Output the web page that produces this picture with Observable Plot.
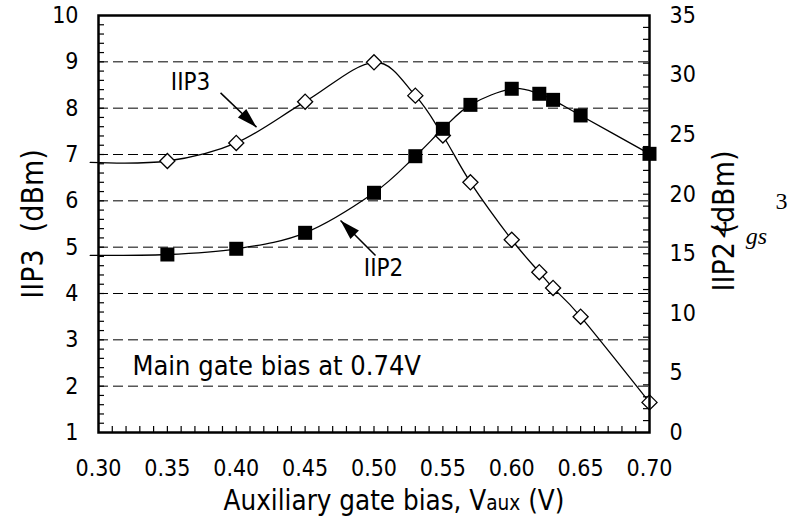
<!DOCTYPE html>
<html>
<head>
<meta charset="utf-8">
<script src="https://cdn.jsdelivr.net/npm/d3@7"></script>
<script src="https://cdn.jsdelivr.net/npm/@observablehq/plot@0.6"></script>
<style>
  html, body { margin: 0; padding: 0; background: #fff; }
</style>
</head>
<body>
<div id="chart"></div>
<script>
// Auxiliary gate bias sweep (V); the first entry is where the fitted curves begin
const vaux = [0.294, 0.35, 0.40, 0.45, 0.50, 0.53, 0.55, 0.57, 0.60, 0.62, 0.63, 0.65, 0.70];
// Measured IIP3 (dBm), left axis
const iip3 = [6.83, 6.86, 7.25, 8.14, 8.99, 8.27, 7.41, 6.40, 5.16, 4.46, 4.12, 3.50, 1.65];
// Measured IIP2 (dBm), right axis
const iip2 = [14.86, 14.94, 15.42, 16.76, 20.12, 23.19, 25.49, 27.50, 28.85, 28.43, 27.92, 26.61, 23.39];

// Tick labels
const xTickLabels = [0.30, 0.35, 0.40, 0.45, 0.50, 0.55, 0.60, 0.65, 0.70];
const leftTickLabels = [1, 2, 3, 4, 5, 6, 7, 8, 9, 10];
const rightTickLabels = [0, 5, 10, 15, 20, 25, 30, 35];
const gridLevels = [2, 3, 4, 5, 6, 7, 8, 9];

// Annotation text
const curveLabels = [
  {text: "IIP3", x: 0.3668, y: 8.56},
  {text: "IIP2", x: 0.5069, y: 4.54}
];
const curveArrows = [
  {x1: 0.3886, y1: 8.33, x2: 0.4147, y2: 7.59, angle: 134},
  {x1: 0.5011, y1: 4.82, x2: 0.4757, y2: 5.575, angle: -45}
];
const biasNote = {text: "Main gate bias at 0.74V", x: 0.3247, y: 2.42};

const titleLeft = "IIP3  (dBm)";
const titleRight = "IIP2 (dBm)";
const titleBottom = "Auxiliary gate bias, Vaux (V)";

// Layout
const W = 797, H = 519;
const mL = 98, mR = 148, mT = 15, mB = 87;
const innerW = W - mL - mR, innerH = H - mT - mB;
const tickLen = 6;

const xDomain = [0.30, 0.70];
const leftDomain = [1, 10];
const rightDomain = [0, 35];
// Right-axis value expressed on the left-axis scale
const toLeft = v => leftDomain[0] + (v - rightDomain[0]) * (leftDomain[1] - leftDomain[0]) / (rightDomain[1] - rightDomain[0]);
const fromLeft = y => rightDomain[0] + (y - leftDomain[0]) * (rightDomain[1] - rightDomain[0]) / (leftDomain[1] - leftDomain[0]);

const rows = vaux.map((x, i) => ({x, iip3: iip3[i], iip2: toLeft(iip2[i])}));
const measured = rows.filter(d => d.x >= xDomain[0]);

const leftMinor = d3.range(1, 50).map(i => 1 + i * 0.2).filter(v => v < 9.999);
const rightMinor = d3.range(1, 35).map(toLeft);
const bottomMinor = d3.range(31, 70).map(i => i / 100);

// Filled arrowhead, tip at the origin, pointing up before rotation
const arrowHead = {
  draw(ctx) {
    ctx.moveTo(0, 0);
    ctx.lineTo(6, 20);
    ctx.lineTo(-6, 20);
    ctx.closePath();
  }
};

const font = "DejaVu Sans Condensed";

const chart = Plot.plot({
  width: W,
  height: H,
  marginLeft: mL,
  marginRight: mR,
  marginTop: mT,
  marginBottom: mB,
  x: {domain: xDomain},
  y: {domain: leftDomain},
  style: {fontFamily: font, fontSize: "23px", color: "#000", background: "#fff", overflow: "visible"},
  marks: [
    // dashed horizontal grid
    Plot.ruleY(gridLevels, {stroke: "#000", strokeWidth: 1, strokeDasharray: "10,5"}),

    // inward tick marks
    Plot.tickY(leftMinor, {y: d => d, insetRight: innerW - tickLen, stroke: "#000", strokeWidth: 1.2}),
    Plot.tickY(rightMinor, {y: d => d, insetLeft: innerW - tickLen, stroke: "#000", strokeWidth: 1.2}),
    Plot.tickX(bottomMinor, {x: d => d, insetTop: innerH - tickLen, stroke: "#000", strokeWidth: 1.2}),

    // tick labels
    Plot.axisY(leftTickLabels, {anchor: "left", tickSize: 0, tickPadding: 20, fontSize: 23, label: null}),
    Plot.axisY(rightTickLabels.map(toLeft), {anchor: "right", tickSize: 0, tickPadding: 20, fontSize: 23, label: null,
      tickFormat: d => String(Math.round(fromLeft(d)))}),
    Plot.axisX(xTickLabels, {anchor: "bottom", tickSize: 0, tickPadding: 27, fontSize: 23, label: null,
      tickFormat: d3.format(".2f")}),

    // IIP3 curve and markers
    Plot.line(rows, {x: "x", y: "iip3", curve: "cardinal", stroke: "#000", strokeWidth: 1.3}),
    Plot.dot(measured, {x: "x", y: "iip3", symbol: "diamond2", r: 6.8, fill: "#fff", stroke: "#000", strokeWidth: 1.3}),

    // IIP2 curve and markers
    Plot.line(rows, {x: "x", y: "iip2", curve: "cardinal", stroke: "#000", strokeWidth: 1.3}),
    Plot.dot(measured, {x: "x", y: "iip2", symbol: "square", r: 7.9, fill: "#000", stroke: "none"}),

    // curve annotations
    Plot.text(curveLabels, {x: "x", y: "y", text: "text", fontSize: 24, fill: "#000"}),
    Plot.link(curveArrows, {x1: "x1", y1: "y1", x2: "x2", y2: "y2", stroke: "#000", strokeWidth: 1.5}),
    Plot.dot(curveArrows, {x: "x2", y: "y2", symbol: arrowHead, rotate: "angle", r: 4, fill: "#000", stroke: "none"}),
    Plot.text([biasNote], {x: "x", y: "y", text: "text", textAnchor: "start", fontSize: 27, fill: "#000"}),

    // axis titles
    Plot.text([titleLeft], {frameAnchor: "left", dx: -65, textAnchor: "middle", lineAnchor: "middle", rotate: -90, fontSize: 30, fill: "#000"}),
    Plot.text([titleRight], {frameAnchor: "right", dx: 75, dy: -3, textAnchor: "middle", lineAnchor: "middle", rotate: -90, fontSize: 30, fill: "#000"}),
    Plot.text([titleBottom], {frameAnchor: "bottom", dx: 20, dy: 69, textAnchor: "middle", lineAnchor: "middle", fontSize: 27.5, fill: "#000"}),

    // stray equation glyphs beside the right axis title
    Plot.text(["v"], {frameAnchor: "right", dx: 72, dy: 4, textAnchor: "middle", lineAnchor: "middle", fontFamily: "Liberation Serif", fontStyle: "italic", fontSize: 30, rotate: -25, fill: "#000"}),
    Plot.text(["gs"], {frameAnchor: "right", dx: 107, dy: 12, textAnchor: "middle", lineAnchor: "middle", fontFamily: "Liberation Serif", fontStyle: "italic", fontSize: 24, fill: "#000"}),
    Plot.text(["3"], {frameAnchor: "right", dx: 132, dy: -23, textAnchor: "middle", lineAnchor: "middle", fontFamily: "Liberation Serif", fontSize: 24, fill: "#000"}),

    // plot box
    Plot.frame({stroke: "#000", strokeWidth: 2.5})
  ]
});

// Render "aux" of V_aux at a smaller size
d3.select(chart).selectAll("text")
  .filter(function() { return this.textContent === titleBottom; })
  .each(function() {
    const t = d3.select(this);
    t.text(null);
    t.append("tspan").text("Auxiliary gate bias, V");
    t.append("tspan").attr("font-size", "0.75em").text("aux");
    t.append("tspan").text(" (V)");
  });

document.getElementById("chart").appendChild(chart);
</script>
</body>
</html>
